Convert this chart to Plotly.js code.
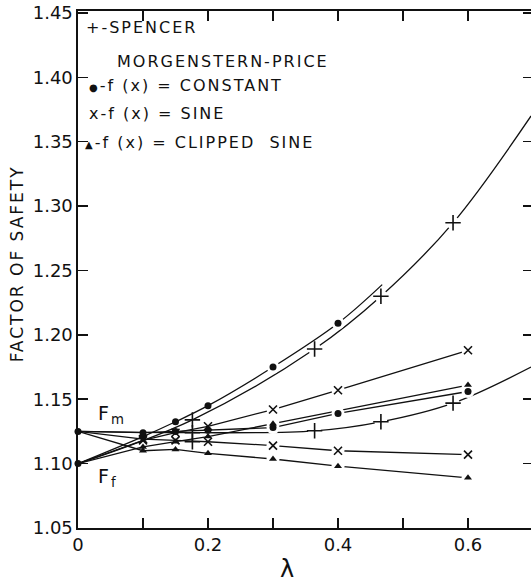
<!DOCTYPE html>
<html>
<head>
<meta charset="utf-8">
<script src="https://cdn.plot.ly/plotly-3.0.1.min.js"></script>
<style>
  html, body { margin: 0; padding: 0; background: #fff; overflow: hidden; }
  #chart { width: 533px; height: 583px; }
  .annotation-text { letter-spacing: 2px; }
</style>
</head>
<body>
<div id="chart"></div>
<script>
// ---- data (lambda vs factor of safety) ----
// Starting points at lambda = 0 (F_m = Bishop, F_f = Janbu)
const zeroLam = [0, 0];
const zeroF = [1.125, 1.100];

// Spencer (lambda = tan theta)
const spencerFfLam = [0, 0.176, 0.364, 0.466, 0.577, 0.697];
const spencerFfVal = [1.100, 1.134, 1.189, 1.230, 1.287, 1.370];
const spencerFmLam = [0, 0.176, 0.364, 0.466, 0.577, 0.697];
const spencerFmVal = [1.125, 1.124, 1.1255, 1.1325, 1.147, 1.175];
const spencerExtraLam = [0.176];
const spencerExtraVal = [1.117];

// Morgenstern-Price, f(x) = constant
const constFfLam = [0, 0.1, 0.15, 0.2, 0.3, 0.4, 0.468];
const constFfVal = [1.100, 1.121, 1.1325, 1.145, 1.175, 1.209, 1.239];
const constFmLam = [0, 0.1, 0.15, 0.2, 0.3, 0.4, 0.6];
const constFmVal = [1.125, 1.124, 1.125, 1.126, 1.128, 1.139, 1.156];

// f(x) = sine
const sineFfLam = [0, 0.1, 0.15, 0.2, 0.3, 0.4, 0.6];
const sineFfVal = [1.100, 1.118, 1.124, 1.129, 1.142, 1.157, 1.188];
const sineFmLam = [0, 0.1, 0.15, 0.2, 0.3, 0.4, 0.6];
const sineFmVal = [1.125, 1.119, 1.118, 1.117, 1.114, 1.110, 1.107];

// f(x) = clipped sine
const clipFfLam = [0, 0.1, 0.15, 0.2, 0.3, 0.6];
const clipFfVal = [1.100, 1.113, 1.117, 1.121, 1.131, 1.161];
const clipFmLam = [0, 0.1, 0.15, 0.2, 0.3, 0.4, 0.6];
const clipFmVal = [1.125, 1.110, 1.111, 1.108, 1.1036, 1.098, 1.089];

// tick labels
const xTickVals = [0, 0.2, 0.4, 0.6];
const xTickText = ['0', '0.2', '0.4', '0.6'];
const xMinorVals = [0.1, 0.3, 0.5, 0.7];
const yTickVals = [1.05, 1.10, 1.15, 1.20, 1.25, 1.30, 1.35, 1.40, 1.45];
const yTickText = ['1.05', '1.10', '1.15', '1.20', '1.25', '1.30', '1.35', '1.40', '1.45'];

// legend texts
const legendLines = [
  '+-SPENCER',
  'MORGENSTERN-PRICE',
  '<span style="font-size:10px">●</span>-f (x) = CONSTANT',
  'x-f (x) = SINE',
  '<span style="font-size:10px">▲</span>-f (x) = CLIPPED&nbsp; SINE'
];

// ---- build ----
const series = [
  {lam: spencerFfLam, val: spencerFfVal, sym: 'cross-thin', size: 11, shape: 'spline', markLast: 0.6},
  {lam: spencerFmLam, val: spencerFmVal, sym: 'cross-thin', size: 11, shape: 'spline', markLast: 0.6},
  {lam: constFfLam, val: constFfVal, sym: 'circle', size: 7, shape: 'spline', markLast: 0.45},
  {lam: constFmLam, val: constFmVal, sym: 'circle', size: 7, shape: 'linear', markLast: 0.65},
  {lam: sineFfLam, val: sineFfVal, sym: 'x-thin', size: 8, shape: 'linear', markLast: 0.65},
  {lam: sineFmLam, val: sineFmVal, sym: 'x-thin', size: 8, shape: 'linear', markLast: 0.65},
  {lam: clipFfLam, val: clipFfVal, sym: 'triangle-up', size: 7, shape: 'linear', markLast: 0.65},
  {lam: clipFmLam, val: clipFmVal, sym: 'triangle-up', size: 7, shape: 'linear', markLast: 0.65}
];

const lineTraces = [], maskTraces = [], markTraces = [];
series.forEach(s => {
  lineTraces.push({
    x: s.lam, y: s.val, mode: 'lines', type: 'scatter', hoverinfo: 'skip',
    line: {color: '#111', width: 1.3, shape: s.shape, smoothing: 1}
  });
  const mx = [], my = [];
  s.lam.forEach((l, i) => { if (l > 0 && l <= s.markLast) { mx.push(l); my.push(s.val[i]); } });
  const gx = [], gy = [];
  mx.forEach((l, i) => { if (l >= 0.25) { gx.push(l); gy.push(my[i]); } });
  maskTraces.push({
    x: gx, y: gy, mode: 'markers', type: 'scatter', hoverinfo: 'skip',
    marker: {symbol: 'circle', size: 13, color: '#fff', line: {width: 0}}
  });
  const thin = s.sym.indexOf('thin') >= 0;
  markTraces.push({
    x: mx, y: my, mode: 'markers', type: 'scatter', hoverinfo: 'skip',
    marker: thin ? {symbol: s.sym, size: s.size, color: '#111', line: {color: '#111', width: 1.6}}
                 : {symbol: s.sym, size: s.size, color: '#111', line: {width: 0}}
  });
});
markTraces.push({
  x: spencerExtraLam, y: spencerExtraVal, mode: 'markers', type: 'scatter', hoverinfo: 'skip',
  marker: {symbol: 'cross-thin', size: 11, color: '#111', line: {color: '#111', width: 1.6}}
});
markTraces.push({
  x: zeroLam, y: zeroF, mode: 'markers', type: 'scatter', hoverinfo: 'skip', cliponaxis: false,
  marker: {symbol: 'circle', size: 7, color: '#111'}
});

const font = 'DejaVu Sans, Liberation Sans, sans-serif';
const legendY = [1.439, 1.4126, 1.394, 1.372, 1.3497];
const legendX = [0.0086, 0.057, 0.014, 0.014, 0.008];
const annotations = legendLines.map((t, i) => ({
  xref: 'x', yref: 'y', x: legendX[i], y: legendY[i], xanchor: 'left', yanchor: 'middle',
  text: t, showarrow: false, font: {family: font, size: 16, color: '#111'}
}));
annotations.push({
  xref: 'x', yref: 'y', x: 0.027, y: 1.1385, xanchor: 'left', yanchor: 'middle',
  text: 'F<sub>m</sub>', showarrow: false, font: {family: font, size: 19, color: '#111'}
});
annotations.push({
  xref: 'x', yref: 'y', x: 0.027, y: 1.089, xanchor: 'left', yanchor: 'middle',
  text: 'F<sub>f</sub>', showarrow: false, font: {family: font, size: 19, color: '#111'}
});
annotations.push({
  xref: 'x', yref: 'paper', x: 0.323, y: -0.08, xanchor: 'center', yanchor: 'middle',
  text: 'λ', showarrow: false, font: {family: font, size: 24, color: '#111'}
});
annotations.push({
  xref: 'paper', yref: 'paper', x: -0.134, y: 0.51, xanchor: 'center', yanchor: 'middle',
  text: 'FACTOR OF SAFETY', textangle: -90, showarrow: false,
  font: {family: font, size: 17, color: '#111'}
});

const axisCommon = {
  showgrid: false, zeroline: false, showline: true, linecolor: '#111', linewidth: 1.6,
  mirror: 'ticks', ticks: 'inside', ticklen: 10, tickwidth: 1.5, tickcolor: '#111',
  tickfont: {family: font, size: 18, color: '#111'}, fixedrange: true
};

const layout = {
  width: 533, height: 583,
  margin: {l: 78, r: 0, t: 11, b: 55},
  paper_bgcolor: '#fff', plot_bgcolor: '#fff',
  showlegend: false,
  xaxis: Object.assign({}, axisCommon, {
    range: [0, 0.7], tickmode: 'array', tickvals: xTickVals, ticktext: xTickText,
    minor: {tickmode: 'array', tickvals: xMinorVals, ticks: 'inside', ticklen: 10, tickwidth: 1.5, tickcolor: '#111', showgrid: false}
  }),
  yaxis: Object.assign({}, axisCommon, {range: [1.05, 1.4515], tickmode: 'array', tickvals: yTickVals, ticktext: yTickText}),
  annotations: annotations
};

Plotly.newPlot('chart', lineTraces.concat(maskTraces, markTraces), layout, {displayModeBar: false, staticPlot: true});
</script>
</body>
</html>
